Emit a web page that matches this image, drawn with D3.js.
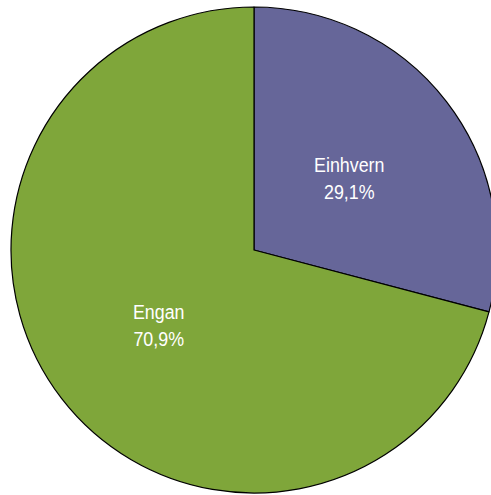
<!DOCTYPE html>
<html><head><meta charset="utf-8">
<script src="https://cdn.jsdelivr.net/npm/d3@7"></script>
<style>html,body{margin:0;padding:0;background:#fff;}svg{display:block;}</style>
</head><body>
<svg id="chart" width="491" height="495"></svg>
<script>
const categories = ["Einhvern", "Engan"];
const values = [29.1, 70.9];
const labels = ["29,1%", "70,9%"];
const colors = ["#666699", "#7FA63A"];

const svg = d3.select("#chart");
const cx = 254, cy = 250, r = 243;
const g = svg.append("g").attr("transform", `translate(${cx},${cy})`);
const pie = d3.pie().sort(null).value(d => d)(values);
const arc = d3.arc().innerRadius(0).outerRadius(r);
const labelArc = d3.arc().innerRadius(r * 0.495).outerRadius(r * 0.495);

g.selectAll("path").data(pie).join("path")
  .attr("d", arc)
  .attr("fill", (d, i) => colors[i])
  .attr("stroke", "#000")
  .attr("stroke-width", 1.2)
  .attr("stroke-linejoin", "round");

const t = g.selectAll("text.lbl").data(pie).join("text")
  .attr("class", "lbl")
  .attr("transform", d => `translate(${labelArc.centroid(d)}) scale(0.94,1.03)`)
  .attr("text-anchor", "middle")
  .attr("fill", "#fff")
  .style("font-family", "'Liberation Sans Narrow', 'Arial Narrow', 'Liberation Sans', sans-serif")
  .style("font-size", "19px");
t.append("tspan").attr("x", 0).attr("dy", "-0.25em").text((d, i) => categories[i]);
t.append("tspan").attr("x", 0).attr("dy", "1.42em").text((d, i) => labels[i]);
</script>
</body></html>
